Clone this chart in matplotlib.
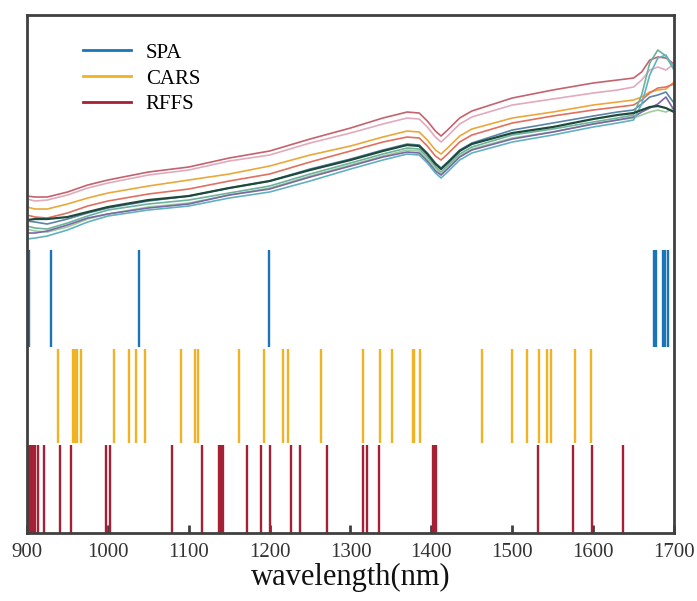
import matplotlib.pyplot as plt
from matplotlib.lines import Line2D

plt.rcParams['font.family'] = ['Liberation Serif', 'DejaVu Serif']

# spectra (arbitrary offset units)
wl = [900, 910, 925, 950, 975, 1000, 1050, 1100, 1150, 1200, 1250, 1300, 1340, 1370, 1385,
      1395, 1405, 1412, 1420, 1435, 1450, 1500, 1550, 1600, 1630, 1650, 1660, 1670, 1680, 1690, 1700]

spec_rose = [337, 336, 336, 341, 348, 353, 361, 366, 375, 382, 394, 405, 415, 421, 420, 412,
             402, 397, 403, 415, 422, 435, 443, 450, 453, 455, 461, 473, 476, 475, 469]
spec_pink = [334, 332, 333, 338, 345, 350, 358, 363, 372, 378, 390, 400, 409, 415, 414, 406,
             396, 391, 397, 409, 416, 428, 434, 440, 443, 446, 453, 463, 466, 463, 469]
spec_gold = [326, 324, 324, 329, 335, 340, 347, 353, 359, 367, 378, 387, 396, 402, 401, 393,
             383, 379, 385, 397, 404, 415, 421, 428, 431, 433, 436, 441, 443, 444, 451]
spec_salmon = [318, 316, 315, 320, 327, 332, 339, 344, 352, 359, 371, 382, 391, 396, 395, 387,
               377, 373, 379, 391, 398, 410, 417, 423, 426, 428, 433, 440, 445, 446, 449]
spec_steel = [312, 311, 309, 314, 320, 325, 332, 337, 345, 352, 364, 374, 383, 389, 388, 380,
              370, 365, 371, 383, 390, 403, 410, 417, 421, 423, 429, 436, 438, 441, 430]
spec_teal = [307, 305, 304, 310, 317, 323, 329, 333, 340, 347, 359, 370, 379, 385, 384, 376,
             366, 361, 367, 379, 386, 398, 404, 411, 415, 418, 438, 470, 483, 477, 463]
spec_lgreen = [304, 302, 301, 306, 314, 319, 326, 330, 338, 345, 357, 368, 377, 383, 382, 374,
               364, 359, 365, 377, 384, 395, 401, 409, 413, 415, 418, 421, 423, 421, 425]
spec_purple = [300, 300, 302, 308, 315, 319, 325, 329, 338, 344, 356, 367, 376, 381, 380, 372,
               362, 358, 364, 376, 383, 394, 401, 409, 413, 416, 421, 425, 429, 436, 423]
spec_cyan = [294, 295, 297, 303, 311, 317, 323, 327, 335, 341, 352, 364, 373, 379, 378, 370,
             360, 355, 361, 373, 380, 391, 398, 406, 410, 413, 429, 458, 475, 478, 465]
spec_dark = [313, 314, 314, 316, 321, 326, 333, 337, 345, 352, 363, 373, 382, 388, 387, 379,
             369, 364, 370, 382, 389, 400, 406, 414, 418, 420, 423, 426, 427, 425, 421]

spectra = [
    (spec_rose, '#c4626e'),
    (spec_pink, '#e2aabb'),
    (spec_gold, '#eba83a'),
    (spec_salmon, '#e0705f'),
    (spec_steel, '#5a84aa'),
    (spec_teal, '#6bb39d'),
    (spec_lgreen, '#9fcd9d'),
    (spec_purple, '#7a67a4'),
    (spec_cyan, '#62b1c1'),
    (spec_dark, '#1e4a3c'),
]

# selected wavelengths
spa_wl = [901, 902, 930, 1038, 1199, 1675, 1678, 1686, 1689, 1692]
cars_wl = [938, 957, 959, 962, 967, 1008, 1026, 1035, 1046, 1091, 1108, 1111, 1162, 1193,
           1217, 1223, 1263, 1316, 1336, 1351, 1377, 1379, 1386, 1462, 1500, 1518, 1533,
           1543, 1548, 1577, 1597]
rffs_wl = [903, 905, 908, 910, 914, 921, 941, 954, 998, 1003, 1079, 1117, 1138, 1140, 1142,
           1172, 1189, 1200, 1227, 1237, 1271, 1315, 1321, 1335, 1402, 1404, 1406, 1532,
           1575, 1598, 1637]

spa_c = '#1a74b8'
cars_c = '#f0b323'
rffs_c = '#a51f35'

fig = plt.figure(figsize=(6.97, 6.01), dpi=100)
ax = fig.add_axes([0.0387, 0.1131, 0.9283, 0.8619])

for vals, c in spectra:
    lw = 1.6 if c == '#1e4a3c' else 1.2
    ax.plot(wl, vals, color=c, lw=lw)

ax.vlines(spa_wl, 186, 283, colors=spa_c, lw=1.7)
ax.vlines(cars_wl, 90, 184, colors=cars_c, lw=1.7)
ax.vlines(rffs_wl, 0, 88, colors=rffs_c, lw=1.7)

ax.set_xlim(900, 1700)
ax.set_ylim(0, 518)
ax.set_xticks([900, 1000, 1100, 1200, 1300, 1400, 1500, 1600, 1700])
ax.set_yticks([])
ax.tick_params(axis='x', direction='in', length=6, width=2, color='#404040',
               labelsize=15, labelcolor='#333333', pad=7)
for s in ax.spines.values():
    s.set_color('#404040')
    s.set_linewidth(2)

ax.set_xlabel('wavelength(nm)', fontsize=22, color='#111111', labelpad=1)

handles = [Line2D([], [], color=spa_c, lw=2),
           Line2D([], [], color=cars_c, lw=2),
           Line2D([], [], color=rffs_c, lw=2)]
ax.legend(handles, ['SPA', 'CARS', 'RFFS'], loc='upper left', bbox_to_anchor=(0.058, 0.982),
          frameon=False, fontsize=15, handlelength=2.3, handletextpad=0.7, labelspacing=0.3)

fig.savefig('out.png', dpi=100)
